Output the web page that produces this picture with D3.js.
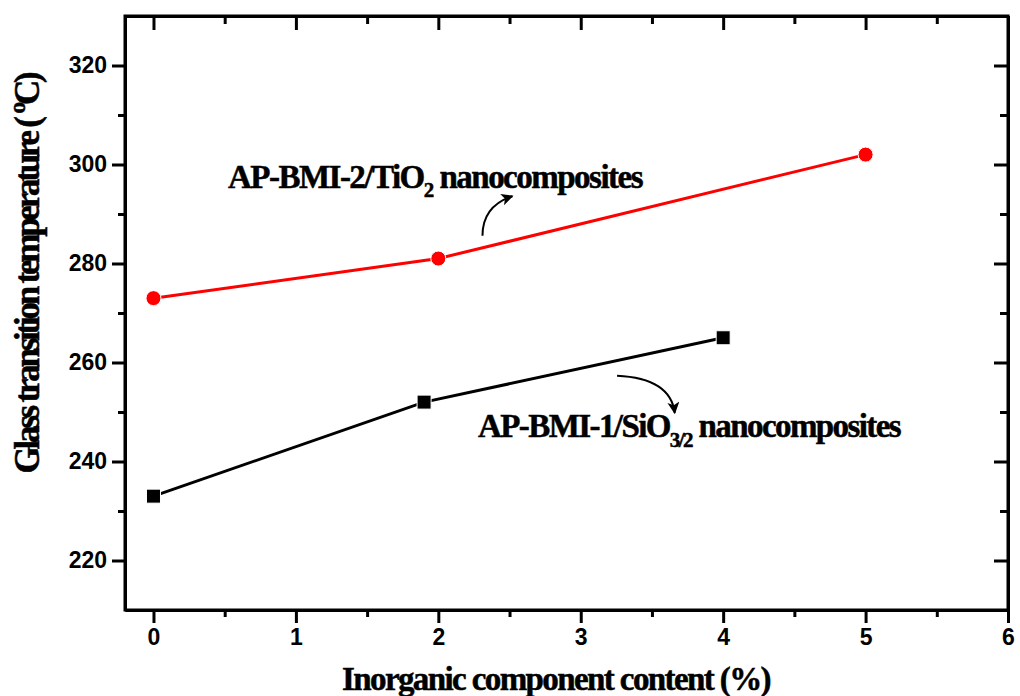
<!DOCTYPE html>
<html>
<head>
<meta charset="utf-8">
<script src="https://cdn.jsdelivr.net/npm/d3@7"></script>
<style>
  body { margin: 0; background: #fff; }
  svg { display: block; }
  .tick-label { font-family: "Liberation Sans", Arial, sans-serif; font-weight: bold; font-size: 23px; }
  .serif { font-family: "Liberation Serif", "Times New Roman", serif; font-weight: bold; stroke: #000; stroke-width: 0.5px; }
</style>
</head>
<body>
<div id="chart"></div>
<script>
// Data
const tio2X = [0, 2, 5];
const tio2Y = [273, 281, 302];
const sioX = [0, 1.9, 4];
const sioY = [233, 252, 265];

const xTicks = [0, 1, 2, 3, 4, 5, 6];
const xMinorTicks = [0.5, 1.5, 2.5, 3.5, 4.5, 5.5];
const yTicks = [220, 240, 260, 280, 300, 320];
const yMinorTicks = [230, 250, 270, 290, 310];

// Set up dimensions
let width = 1020;
let height = 696;
let margin = { top: 16, right: 12, bottom: 86, left: 125 };
let axisStroke = 3;

// Set up scales
let xScale = d3
  .scaleLinear()
  .domain([-0.2, 6])
  .range([margin.left, width - margin.right]);

let yScale = d3
  .scaleLinear()
  .domain([210, 330])
  .range([height - margin.bottom, margin.top]);

const svg = d3
  .select("#chart")
  .append("svg")
  .attr("width", width)
  .attr("height", height);

// Arrow marker
svg
  .append("defs")
  .append("marker")
  .attr("id", "arrow")
  .attr("viewBox", "0 0 10 10")
  .attr("refX", 9)
  .attr("refY", 5)
  .attr("markerWidth", 15)
  .attr("markerHeight", 12)
  .attr("markerUnits", "userSpaceOnUse")
  .attr("orient", "auto")
  .append("path")
  .attr("d", "M0,0 L10,5 L0,10 L2.5,5 Z")
  .attr("fill", "#000");

// Draw axes
function styleAxis(g) {
  g.selectAll(".domain").attr("stroke-width", axisStroke);
  g.selectAll(".tick line").attr("stroke-width", axisStroke);
  g.selectAll("text").attr("class", "tick-label").attr("fill", "#000");
}

// Bottom axis
svg
  .append("g")
  .attr("transform", `translate(0,${height - margin.bottom})`)
  .call(d3.axisBottom(xScale).tickValues(xMinorTicks).tickSize(7).tickSizeOuter(0).tickFormat(""))
  .call(styleAxis);
svg
  .append("g")
  .attr("transform", `translate(0,${height - margin.bottom})`)
  .call(d3.axisBottom(xScale).tickValues(xTicks).tickSize(13).tickSizeOuter(0).tickPadding(6).tickFormat(d3.format("d")))
  .call(styleAxis);

// Top axis (ticks inward)
svg
  .append("g")
  .attr("transform", `translate(0,${margin.top})`)
  .call(d3.axisBottom(xScale).tickValues(xMinorTicks).tickSize(8).tickSizeOuter(0).tickFormat(""))
  .call(styleAxis);
svg
  .append("g")
  .attr("transform", `translate(0,${margin.top})`)
  .call(d3.axisBottom(xScale).tickValues(xTicks).tickSize(14).tickSizeOuter(0).tickFormat(""))
  .call(styleAxis);

// Left axis
svg
  .append("g")
  .attr("transform", `translate(${margin.left},0)`)
  .call(d3.axisLeft(yScale).tickValues(yMinorTicks).tickSize(7).tickSizeOuter(0).tickFormat(""))
  .call(styleAxis);
svg
  .append("g")
  .attr("transform", `translate(${margin.left},0)`)
  .call(d3.axisLeft(yScale).tickValues(yTicks).tickSize(13).tickSizeOuter(0).tickPadding(5).tickFormat(d3.format("d")))
  .call(styleAxis);

// Right axis (ticks inward)
svg
  .append("g")
  .attr("transform", `translate(${width - margin.right},0)`)
  .call(d3.axisLeft(yScale).tickValues(yMinorTicks).tickSize(8).tickSizeOuter(0).tickFormat(""))
  .call(styleAxis);
svg
  .append("g")
  .attr("transform", `translate(${width - margin.right},0)`)
  .call(d3.axisLeft(yScale).tickValues(yTicks).tickSize(14).tickSizeOuter(0).tickFormat(""))
  .call(styleAxis);

// Frame
svg
  .append("rect")
  .attr("x", margin.left)
  .attr("y", margin.top)
  .attr("width", width - margin.left - margin.right)
  .attr("height", height - margin.top - margin.bottom)
  .attr("fill", "none")
  .attr("stroke", "#000")
  .attr("stroke-width", axisStroke);

// Tighten letter spacing so text fills the target width
function fitText(text, targetWidth) {
  let str = text.text();
  let w = text.node().getComputedTextLength();
  text.style("letter-spacing", `${(targetWidth - w) / str.length}px`);
}

// Axis titles
let xTitle = svg
  .append("text")
  .attr("class", "serif")
  .attr("font-size", 33)
  .attr("text-anchor", "middle")
  .attr("x", 556)
  .attr("y", 690)
  .text("Inorganic component content (%)");
fitText(xTitle, 428);

let yTitle = svg
  .append("text")
  .attr("class", "serif")
  .attr("font-size", 35)
  .attr("text-anchor", "middle")
  .attr("transform", `translate(39,274) rotate(-90)`);
yTitle.append("tspan").text("Glass transition temperature ( ");
yTitle.append("tspan").attr("font-size", 24).attr("dy", -14).text("o");
yTitle.append("tspan").attr("dy", 14).text("C)");
fitText(yTitle, 399);

// Draw lines
let line = d3
  .line()
  .x((d) => xScale(d[0]))
  .y((d) => yScale(d[1]));

svg
  .append("path")
  .attr("fill", "none")
  .attr("stroke", "#ff0000")
  .attr("stroke-width", 3)
  .attr("d", line(d3.zip(tio2X, tio2Y)));

svg
  .append("path")
  .attr("fill", "none")
  .attr("stroke", "#000")
  .attr("stroke-width", 3)
  .attr("d", line(d3.zip(sioX, sioY)));

// Draw markers
svg
  .append("g")
  .selectAll("circle")
  .data(d3.zip(tio2X, tio2Y))
  .join("circle")
  .attr("cx", (d) => xScale(d[0]))
  .attr("cy", (d) => yScale(d[1]))
  .attr("r", 7.5)
  .attr("fill", "#ff0000")
  .attr("stroke", "#fff")
  .attr("stroke-width", 1);

let sq = 14;
svg
  .append("g")
  .selectAll("rect")
  .data(d3.zip(sioX, sioY))
  .join("rect")
  .attr("x", (d) => xScale(d[0]) - sq / 2)
  .attr("y", (d) => yScale(d[1]) - sq / 2)
  .attr("width", sq)
  .attr("height", sq)
  .attr("fill", "#000")
  .attr("stroke", "#fff")
  .attr("stroke-width", 1);

// Annotations
let ann1 = svg
  .append("text")
  .attr("class", "serif")
  .attr("font-size", 33)
  .attr("x", xScale(0.523))
  .attr("y", yScale(295.25));
ann1.append("tspan").text("AP-BMI-2/TiO");
ann1.append("tspan").attr("font-size", 21).attr("dy", 9).text("2");
ann1.append("tspan").attr("dy", -9).text(" nanocomposites");
fitText(ann1, 414);

let ann2 = svg
  .append("text")
  .attr("class", "serif")
  .attr("font-size", 33)
  .attr("x", xScale(2.279))
  .attr("y", yScale(244.95));
ann2.append("tspan").text("AP-BMI-1/SiO");
ann2.append("tspan").attr("font-size", 21).attr("dy", 10).text("3/2");
ann2.append("tspan").attr("dy", -10).text(" nanocomposites");
fitText(ann2, 422);

// Annotation arrows
let curve = (p) =>
  `M${xScale(p[0][0])},${yScale(p[0][1])} Q${xScale(p[1][0])},${yScale(p[1][1])} ${xScale(p[2][0])},${yScale(p[2][1])}`;

svg
  .append("path")
  .attr("fill", "none")
  .attr("stroke", "#000")
  .attr("stroke-width", 2)
  .attr("marker-end", "url(#arrow)")
  .attr("d", curve([[2.31, 285.6], [2.31, 291.6], [2.52, 293.6]]));

svg
  .append("path")
  .attr("fill", "none")
  .attr("stroke", "#000")
  .attr("stroke-width", 2)
  .attr("marker-end", "url(#arrow)")
  .attr("d", curve([[3.255, 257.3], [3.63, 256.8], [3.66, 249.8]]));
</script>
</body>
</html>
